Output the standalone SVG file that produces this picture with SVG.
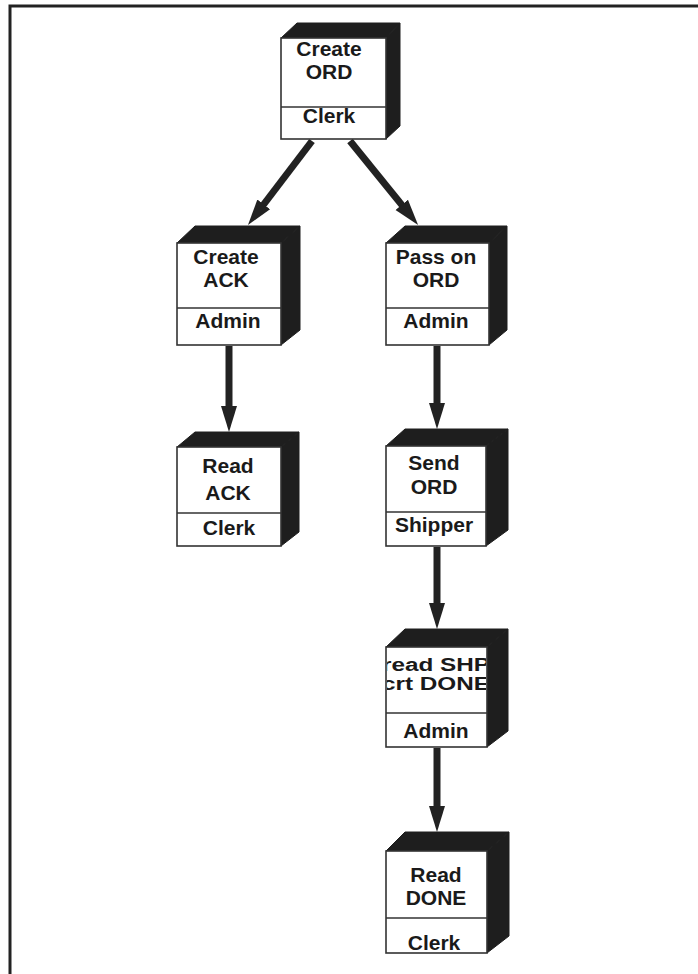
<svg xmlns="http://www.w3.org/2000/svg" width="698" height="974" viewBox="0 0 698 974">
<style>
.front{fill:#fff;stroke:#333;stroke-width:1.6}
.div{stroke:#333;stroke-width:1.4}
.dark{fill:#1e1e1e;stroke:#1e1e1e;stroke-width:1}
.t{font-family:"Liberation Sans",Arial,sans-serif;font-size:21px;font-weight:bold;fill:#1a1a1a;text-anchor:middle}
.ts{font-size:18px}
.arr{stroke:#222;stroke-width:7;fill:none;marker-end:url(#ah)}
</style>
<defs>
<marker id="ah" markerUnits="userSpaceOnUse" markerWidth="30" markerHeight="20" viewBox="0 -10 30 20" refX="2" refY="0" orient="auto">
<path d="M0,-8 L26,0 L0,8 z" fill="#222"/>
</marker>
<clipPath id="clipShp"><rect x="387" y="648" width="99" height="64"/></clipPath>
</defs>
<rect width="698" height="974" fill="#fff"/>
<g id="frame">
<path d="M10,974 L10,6 L698,6" fill="none" stroke="#222" stroke-width="3"/>
</g>
<g id="connectors">
<line class="arr" x1="312" y1="141" x2="262.5" y2="206"/>
<line class="arr" x1="350" y1="141" x2="403" y2="206.4"/>
<line class="arr" x1="229" y1="346" x2="229" y2="408"/>
<line class="arr" x1="437" y1="346" x2="437" y2="405"/>
<line class="arr" x1="437" y1="547" x2="437" y2="605"/>
<line class="arr" x1="437" y1="748" x2="437" y2="808"/>
</g>
<g id="n-create-ord">
<polygon class="dark" points="281,38 297,23 400,23 386,38"/>
<polygon class="dark" points="386,38 400,23 400,126 386,139"/>
<rect class="front" x="281" y="38" width="105" height="101"/>
<line class="div" x1="281" y1="107" x2="386" y2="107"/>
<text class="t" x="329" y="56">Create</text>
<text class="t" x="329" y="79">ORD</text>
<text class="t" x="329" y="123">Clerk</text>
</g>
<g id="n-create-ack">
<polygon class="dark" points="177,243 195,226 300,226 281,243"/>
<polygon class="dark" points="281,243 300,226 300,330 281,345"/>
<rect class="front" x="177" y="243" width="104" height="102"/>
<line class="div" x1="177" y1="308" x2="281" y2="308"/>
<text class="t" x="226" y="264">Create</text>
<text class="t" x="226" y="287">ACK</text>
<text class="t" x="228" y="328">Admin</text>
</g>
<g id="n-read-ack">
<polygon class="dark" points="177,447 195,432 299,432 281,447"/>
<polygon class="dark" points="281,447 299,432 299,532 281,546"/>
<rect class="front" x="177" y="447" width="104" height="99"/>
<line class="div" x1="177" y1="513" x2="281" y2="513"/>
<text class="t" x="228" y="473">Read</text>
<text class="t" x="228" y="500">ACK</text>
<text class="t" x="229" y="535">Clerk</text>
</g>
<g id="n-pass-ord">
<polygon class="dark" points="386,243 405,226 507,226 489,243"/>
<polygon class="dark" points="489,243 507,226 507,330 489,345"/>
<rect class="front" x="386" y="243" width="103" height="102"/>
<line class="div" x1="386" y1="308" x2="489" y2="308"/>
<text class="t" x="436" y="264">Pass on</text>
<text class="t" x="436" y="287">ORD</text>
<text class="t" x="436" y="328">Admin</text>
</g>
<g id="n-send-ord">
<polygon class="dark" points="386,446 405,429 508,429 486,446"/>
<polygon class="dark" points="486,446 508,429 508,530 486,546"/>
<rect class="front" x="386" y="446" width="100" height="100"/>
<line class="div" x1="386" y1="512" x2="486" y2="512"/>
<text class="t" x="434" y="470">Send</text>
<text class="t" x="434" y="494">ORD</text>
<text class="t" x="434" y="532">Shipper</text>
</g>
<g id="n-read-shp">
<polygon class="dark" points="386,647 405,629 508,629 487,647"/>
<polygon class="dark" points="487,647 508,629 508,731 487,747"/>
<rect class="front" x="386" y="647" width="101" height="100"/>
<line class="div" x1="386" y1="713" x2="487" y2="713"/>
<g clip-path="url(#clipShp)">
<text class="t ts" x="436" y="671" textLength="108" lengthAdjust="spacingAndGlyphs">read SHP</text>
<text class="t ts" x="436" y="690" textLength="108" lengthAdjust="spacingAndGlyphs">crt DONE</text>
</g>
<text class="t" x="436" y="738">Admin</text>
</g>
<g id="n-read-done">
<polygon class="dark" points="386,851 405,832 509,832 487,851"/>
<polygon class="dark" points="487,851 509,832 509,936 487,953"/>
<rect class="front" x="386" y="851" width="101" height="102"/>
<line class="div" x1="386" y1="918" x2="487" y2="918"/>
<text class="t" x="436" y="882">Read</text>
<text class="t" x="436" y="905">DONE</text>
<text class="t" x="434" y="950">Clerk</text>
</g>
</svg>
